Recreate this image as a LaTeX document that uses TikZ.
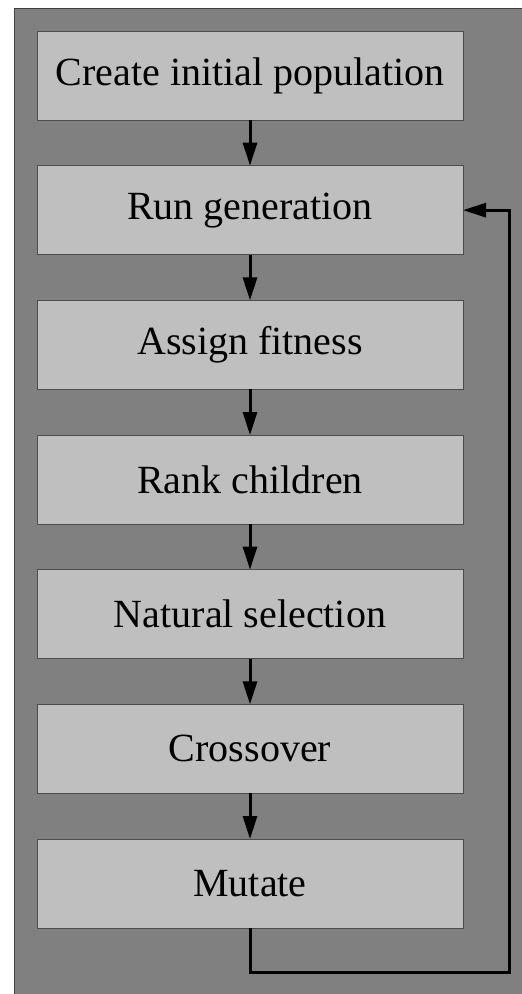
\documentclass[tikz,border=0pt]{standalone}
\usepackage{fontspec}
\setmainfont{Liberation Serif}
\usetikzlibrary{arrows.meta, positioning}

\begin{document}
\begin{tikzpicture}[x=1pt, y=1pt,
  stage/.style={draw=black!70, fill=black!25, line width=0.8pt,
    minimum width=426pt, minimum height=89pt, outer sep=0pt,
    align=center, font=\fontsize{40}{46}\selectfont},
  arr/.style={-{Triangle[length=23pt, width=14pt]}, line width=3pt, black},
  node distance=45.67pt,
]
\useasboundingbox (0,0) rectangle (522,994);
% background
\draw[fill=black!50, draw=black!75, line width=0.8pt] (14,-10) rectangle (540,986);
% stages
\node[stage] (init) at (250,918.5) {Create initial population};
\node[stage, below=of init] (rungen) {Run generation};
\node[stage, below=of rungen] (fitness) {Assign fitness};
\node[stage, below=of fitness] (rank) {Rank children};
\node[stage, below=of rank] (select) {Natural selection};
\node[stage, below=of select] (cross) {Crossover};
\node[stage, below=of cross] (mutate) {Mutate};
\draw[arr] (init) -- (rungen);
\draw[arr] (rungen) -- (fitness);
\draw[arr] (fitness) -- (rank);
\draw[arr] (rank) -- (select);
\draw[arr] (select) -- (cross);
\draw[arr] (cross) -- (mutate);
% loop back
\coordinate (loopdown) at (250,21);
\coordinate (loopright) at (509,21);
\draw[arr] (mutate.south) -- (loopdown) -- (loopright) |- (rungen.east);
\end{tikzpicture}
\end{document}
